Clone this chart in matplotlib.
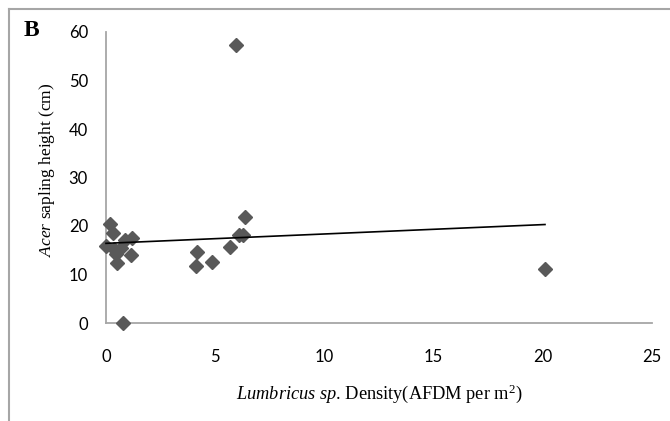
import matplotlib
matplotlib.use("Agg")
import matplotlib.pyplot as plt
import numpy as np
from matplotlib.lines import Line2D

# Data
density = [0.2, 0.3, 0.0, 0.45, 0.5, 0.85, 1.2, 1.15, 0.7, 0.8, 0.35,
           4.15, 4.85, 4.1, 5.7, 6.1, 6.25, 6.35, 5.95, 20.1]
height = [20.4, 18.6, 15.9, 14.3, 12.3, 17.1, 17.5, 14.0, 15.5, 0.0, 15.2,
          14.6, 12.6, 11.8, 15.7, 18.1, 18.1, 21.9, 57.3, 11.1]
xticks = [0, 5, 10, 15, 20, 25]
yticks = [0, 10, 20, 30, 40, 50, 60]

plt.rcParams['mathtext.fontset'] = 'custom'
plt.rcParams['mathtext.rm'] = 'Liberation Serif'
plt.rcParams['mathtext.it'] = 'Liberation Serif:italic'

W, H = 670, 421
fig = plt.figure(figsize=(W / 100, H / 100), dpi=100)
ax = fig.add_axes([106 / W, 1 - 323 / H, (652 - 106) / W, (323 - 32) / H])

axis_col = '#a6a6a6'
mcol = '#595959'

x = np.array(density)
y = np.array(height)
ax.plot(x, y, linestyle='none', marker='D', ms=7.5, color=mcol, zorder=3)

# linear trendline
b, a = np.polyfit(x, y, 1)
xl = np.array([x.min(), x.max()])
ax.plot(xl, a + b * xl, color='black', lw=1.2, zorder=4)

ax.set_xlim(0, 25)
ax.set_ylim(0, 60)
ax.set_xticks(xticks)
ax.set_yticks(yticks)
ax.set_xticklabels([str(t) for t in xticks], fontfamily='Lato', fontsize=12)
ax.set_yticklabels([str(t) for t in yticks], fontfamily='Lato', fontsize=12)
ax.tick_params(axis='both', length=0, colors='black')
ax.tick_params(axis='x', pad=19)
ax.tick_params(axis='y', pad=13)
for s in ['top', 'right']:
    ax.spines[s].set_visible(False)
for s in ['left', 'bottom']:
    ax.spines[s].set_color(axis_col)
    ax.spines[s].set_linewidth(1.3)
ax.patch.set_alpha(0)
for ln in ax.lines:
    ln.set_clip_on(False)

fig.text(47 / W, 1 - 170 / H, r'$\it{Acer}$ sapling height (cm)', rotation=90,
         ha='center', va='center', fontsize=12.5, fontfamily='Liberation Serif')
fig.text(379 / W, 1 - 394 / H, r'$\it{Lumbricus\ sp}$. Density(AFDM per m$^2$)',
         ha='center', va='center', fontsize=13.2, fontfamily='Liberation Serif')
fig.text(31 / W, 1 - 30 / H, 'B', ha='center', va='center', fontsize=17,
         fontweight='bold', fontfamily='Liberation Serif')

# outer frame (top and left)
fig.add_artist(Line2D([9 / W, 1], [1 - 9 / H, 1 - 9 / H], color=axis_col, lw=1.5,
                      transform=fig.transFigure))
fig.add_artist(Line2D([9 / W, 9 / W], [1 - 9 / H, 0], color=axis_col, lw=1.5,
                      transform=fig.transFigure))

fig.savefig('out.png', dpi=100)
